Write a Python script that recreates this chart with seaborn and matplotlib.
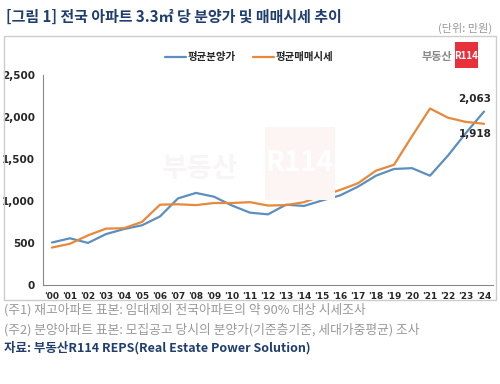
import numpy as np
import pandas as pd
import matplotlib
matplotlib.use("Agg")
import matplotlib.pyplot as plt
from matplotlib.patches import Rectangle
import seaborn as sns

# 연도 라벨
years = ["'00", "'01", "'02", "'03", "'04", "'05", "'06", "'07", "'08", "'09",
         "'10", "'11", "'12", "'13", "'14", "'15", "'16", "'17", "'18", "'19",
         "'20", "'21", "'22", "'23", "'24"]

# 평균분양가 (만원 / 3.3㎡)
presale = [505, 555, 500, 605, 665, 710, 815, 1030, 1095, 1050,
           945, 860, 840, 955, 940, 1005, 1065, 1170, 1300, 1380,
           1390, 1300, 1540, 1810, 2063]

# 평균매매시세
market = [445, 490, 590, 670, 675, 750, 955, 960, 950, 975,
          975, 985, 945, 950, 985, 1060, 1130, 1210, 1360, 1430,
          1770, 2100, 1990, 1940, 1918]

df = pd.DataFrame({"year": years, "평균분양가": presale, "평균매매시세": market})
df["pos"] = np.arange(len(years))
long_df = df.melt(id_vars=["year", "pos"], var_name="series", value_name="value")

sns.set_theme(style="white")
plt.rcParams['font.family'] = ['Noto Sans CJK KR', 'DejaVu Sans']

blue = "#5b8fc0"
orange = "#e8883a"
navy = "#1f3e6e"

fig = plt.figure(figsize=(5, 3.84), dpi=100)

# 차트 테두리
fig.patches.append(Rectangle((0.008, 0.219), 0.984, 0.687, transform=fig.transFigure,
                             fill=False, edgecolor="#cccccc", linewidth=1.0, zorder=0))

# 워터마크
fig.text(0.40, 0.56, "부동산", fontsize=20, fontweight="bold", color="#f9f5f5",
         ha="center", va="center", zorder=0)
fig.patches.append(Rectangle((0.53, 0.48), 0.14, 0.19, transform=fig.transFigure,
                             facecolor="#fdf4f4", edgecolor="none", zorder=0))
fig.text(0.60, 0.575, "R114", fontsize=20, fontweight="bold", color="white",
         ha="center", va="center", zorder=0)

ax = fig.add_axes([0.086, 0.258, 0.9, 0.547])

sns.lineplot(data=long_df, x="pos", y="value", hue="series",
             palette={"평균분양가": blue, "평균매매시세": orange},
             linewidth=1.6, ax=ax, legend=False)

ax.set_xlim(-0.5, len(years) - 0.5)
ax.set_ylim(0, 2500)
ax.set_yticks(np.arange(0, 2501, 500))
ax.set_yticklabels([f"{v:,}" for v in range(0, 2501, 500)],
                   fontsize=7.5, fontweight="bold", family=["DejaVu Sans"])
ax.set_xticks(df["pos"])
ax.set_xticklabels(years, fontsize=6.5, fontweight="bold", family=["DejaVu Sans"])
ax.set_xticks(np.arange(-0.5, len(years), 1), minor=True)
ax.tick_params(axis="x", which="major", length=0, pad=5)
ax.tick_params(axis="x", which="minor", length=3, direction="in", color="#555555", width=0.8)
ax.tick_params(axis="y", length=0, pad=6)
ax.set_xlabel("")
ax.set_ylabel("")
for s in ["top", "right"]:
    ax.spines[s].set_visible(False)
for s in ["left", "bottom"]:
    ax.spines[s].set_color("#888888")
    ax.spines[s].set_linewidth(0.8)
ax.patch.set_alpha(0)

# 끝값 라벨
ax.text(len(years) - 1 + 0.4, presale[-1] + 85, f"{presale[-1]:,}",
        ha="right", va="bottom", fontsize=7.5, fontweight="bold", family=["DejaVu Sans"])
ax.text(len(years) - 1 + 0.4, market[-1] - 60, f"{market[-1]:,}",
        ha="right", va="top", fontsize=7.5, fontweight="bold", family=["DejaVu Sans"])

# 범례
lx = 0.33
ly = 0.852
fig.lines.append(plt.Line2D([lx, lx + 0.042], [ly, ly], transform=fig.transFigure,
                            color=blue, linewidth=1.6))
fig.text(lx + 0.046, ly, "평균분양가", fontsize=7.5, fontweight="bold", va="center")
fig.lines.append(plt.Line2D([lx + 0.176, lx + 0.218], [ly, ly], transform=fig.transFigure,
                            color=orange, linewidth=1.6))
fig.text(lx + 0.222, ly, "평균매매시세", fontsize=7.5, fontweight="bold", va="center")

# 로고
fig.text(0.905, 0.852, "부동산", fontsize=8, fontweight="bold", color="#888888",
         ha="right", va="center")
fig.patches.append(Rectangle((0.91, 0.823), 0.046, 0.068, transform=fig.transFigure,
                             facecolor="#e8303a", edgecolor="none"))
fig.text(0.933, 0.855, "R114", fontsize=7, fontweight="bold", color="white",
         ha="center", va="center")

# 제목
fig.text(0.012, 0.955, "[그림 1] 전국 아파트 3.3㎡ 당 분양가 및 매매시세 추이",
         fontsize=10.8, fontweight="bold", color=navy, ha="left", va="center")
fig.text(0.985, 0.925, "(단위: 만원)", fontsize=8, color="#999999",
         ha="right", va="center")

# 주석
fig.text(0.008, 0.193, "(주1) 재고아파트 표본: 임대제외 전국아파트의 약 90% 대상 시세조사",
         fontsize=9.2, color="#999999", ha="left", va="center")
fig.text(0.008, 0.142, "(주2) 분양아파트 표본: 모집공고 당시의 분양가(기준층기준, 세대가중평균) 조사",
         fontsize=9.2, color="#999999", ha="left", va="center")
fig.text(0.008, 0.095, "자료: 부동산R114 REPS(Real Estate Power Solution)",
         fontsize=9, fontweight="bold", color=navy, ha="left", va="center")

fig.savefig("out.png", dpi=100)
